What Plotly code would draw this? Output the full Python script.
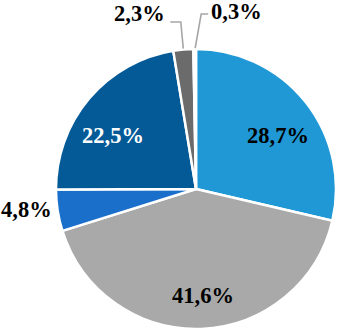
import math
import plotly.graph_objects as go

labels = ["A", "B", "C", "D", "E", "F"]
values = [28.7, 41.6, 4.8, 22.5, 2.3, 0.3]
text_labels = ["28,7%", "41,6%", "4,8%", "22,5%", "2,3%", "0,3%"]

colors = ["#1f98d5", "#a9a9a9", "#1a6fcb", "#045a97", "#6b6b6b", "#d0d0d0"]
font_colors = ["black", "black", "black", "white", "black", "black"]

W, H = 339, 331
CX, CY, R = 196, 189, 140   # pie centre / radius in pixels

fig = go.Figure(go.Pie(
    labels=labels, values=values, textinfo="none",
    sort=False, direction="clockwise", rotation=0,
    marker=dict(colors=colors, line=dict(color="white", width=2.5)),
    domain=dict(x=[(CX - R) / W, (CX + R) / W], y=[1 - (CY + R) / H, 1 - (CY - R) / H]),
    showlegend=False, hoverinfo="none",
))

def px(x, y):
    return x / W, 1 - y / H

total = sum(values)
cum = 0
mids = []
for v in values:
    mids.append((cum + v / 2) / total * 2 * math.pi)
    cum += v

def polar(a, r):
    return CX + r * math.sin(a), CY - r * math.cos(a)

# label placement: (mode, radius fraction, dx, dy)
placement = [
    ("in", 0.72, 3, 9),
    ("in", 0.72, 3, 6),
    ("right", 1.025, 0, -1),
    ("in", 0.72, -6.5, 11.6),
    ("lead_l", None, None, None),
    ("lead_r", None, None, None),
]

FONT = "Liberation Serif"
FS = 22.5
for i, (mode, rf, dx, dy) in enumerate(placement):
    a = mids[i]
    if mode in ("in", "right"):
        x, y = polar(a, rf * R)
        x += dx; y += dy
        xa = "center" if mode == "in" else "right"
    elif mode == "lead_l":
        ex, ey = polar(a, R)
        ptsx = [ex, ex - 2.5, ex - 13]
        ptsy = [ey - 1, 22, 22]
        x, y, xa = ptsx[-1] - 3, 13.5, "right"
    else:
        ex, ey = polar(a, R)
        ptsx = [ex + 0.5, ex + 6.5, ex + 13.5]
        ptsy = [ey - 1, 14, 14]
        x, y, xa = ptsx[-1] + 1, 11, "left"
    if mode.startswith("lead"):
        path = "M " + " L ".join(f"{px(a_, b_)[0]},{px(a_, b_)[1]}" for a_, b_ in zip(ptsx, ptsy))
        fig.add_shape(type="path", path=path, xref="paper", yref="paper",
                      line=dict(color="#a6a6a6", width=1.6))
    xp, yp = px(x, y)
    fig.add_annotation(x=xp, y=yp, xref="paper", yref="paper", text=f"<b>{text_labels[i]}</b>",
                       showarrow=False, xanchor=xa, yanchor="middle",
                       font=dict(family=FONT, size=FS, color=font_colors[i]))

fig.update_layout(width=W, height=H, margin=dict(l=0, r=0, t=0, b=0),
                  paper_bgcolor="white", plot_bgcolor="white")
fig.write_html("out.html", config={"displayModeBar": False},
               post_script="document.body.style.margin='0';document.body.style.overflow='hidden';")
